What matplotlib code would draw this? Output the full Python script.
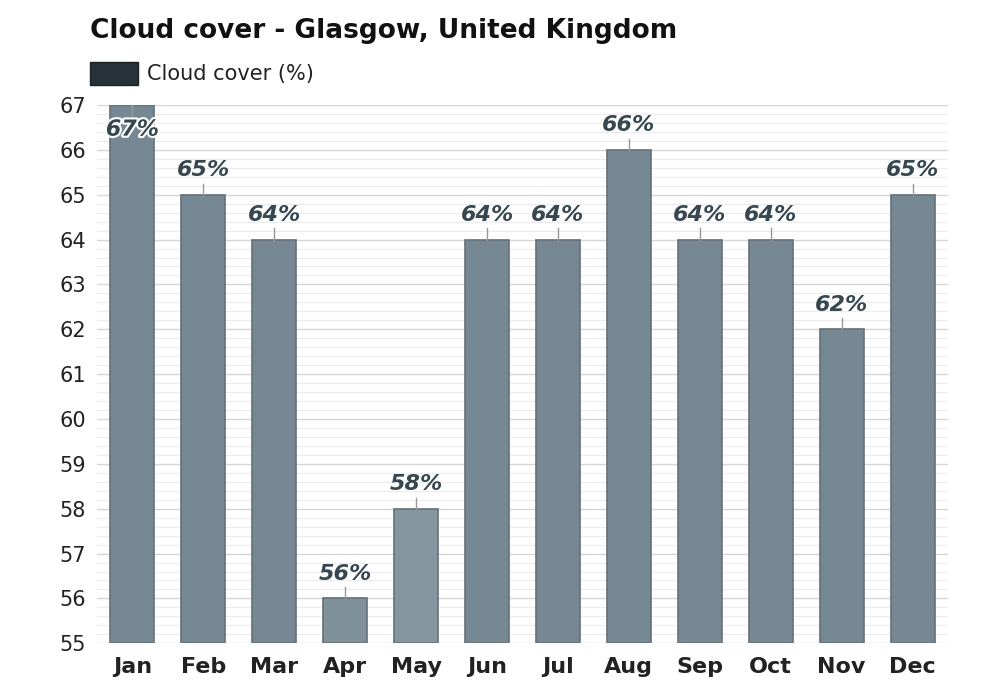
import matplotlib
matplotlib.use("Agg")
import matplotlib.pyplot as plt
import matplotlib.patheffects as pe
import numpy as np

months = ["Jan","Feb","Mar","Apr","May","Jun","Jul","Aug","Sep","Oct","Nov","Dec"]
cloud = [67,65,64,56,58,64,64,66,64,64,62,65]
colors = ["#758893","#758893","#758893","#7f929c","#84969f","#758893","#758893","#758893","#758893","#758893","#758893","#758893"]
yticks = list(range(55,68))

fig = plt.figure(figsize=(10,7), dpi=100)
ax = fig.add_axes([0.097, 0.081, 0.851, 0.769])
x = np.arange(len(months))
ax.set_xlim(-0.5, 11.5)
ax.set_ylim(55, 67)
for v in np.arange(55, 67.01, 0.2):
    major = abs(v-round(v)) < 1e-6
    ax.axhline(v, color="#d6d6d6" if major else "#ececf0", lw=1 if major else 0.8, zorder=0)
ax.bar(x, [c-55 for c in cloud], bottom=55, width=0.62, color=colors, edgecolor="#667077", lw=1.2, zorder=2)
for xi, c in zip(x, cloud):
    if c >= 67:
        ax.text(xi, c-0.55, f"{c}%", ha="center", va="center", fontsize=16, fontweight="bold", style="italic",
                color="#37474f", zorder=4, path_effects=[pe.withStroke(linewidth=3, foreground="white")])
        ax.plot([xi, xi], [c, c-0.25], color="#999", lw=1, zorder=3)
    else:
        ax.plot([xi, xi], [c, c+0.25], color="#999", lw=1, zorder=3)
        ax.text(xi, c+0.55, f"{c}%", ha="center", va="center", fontsize=16, fontweight="bold", style="italic",
                color="#37474f", zorder=4)
ax.set_xticks(x)
ax.set_xticklabels(months, fontsize=16, fontweight="bold", color="#222")
ax.set_yticks(yticks)
ax.set_yticklabels([str(t) for t in yticks], fontsize=15, color="#222")
ax.tick_params(length=0, pad=10)
ax.tick_params(axis="y", pad=8)
for s in ax.spines.values():
    s.set_visible(False)
fig.text(0.09, 0.955, "Cloud cover - Glasgow, United Kingdom", fontsize=19, fontweight="bold", va="center", color="#111")
fig.patches.append(matplotlib.patches.Rectangle((0.09, 0.878), 0.048, 0.033, transform=fig.transFigure,
                   facecolor="#263238", edgecolor="#1a2226"))
fig.text(0.147, 0.894, "Cloud cover (%)", fontsize=15, va="center", color="#222")
fig.savefig("out.png")
